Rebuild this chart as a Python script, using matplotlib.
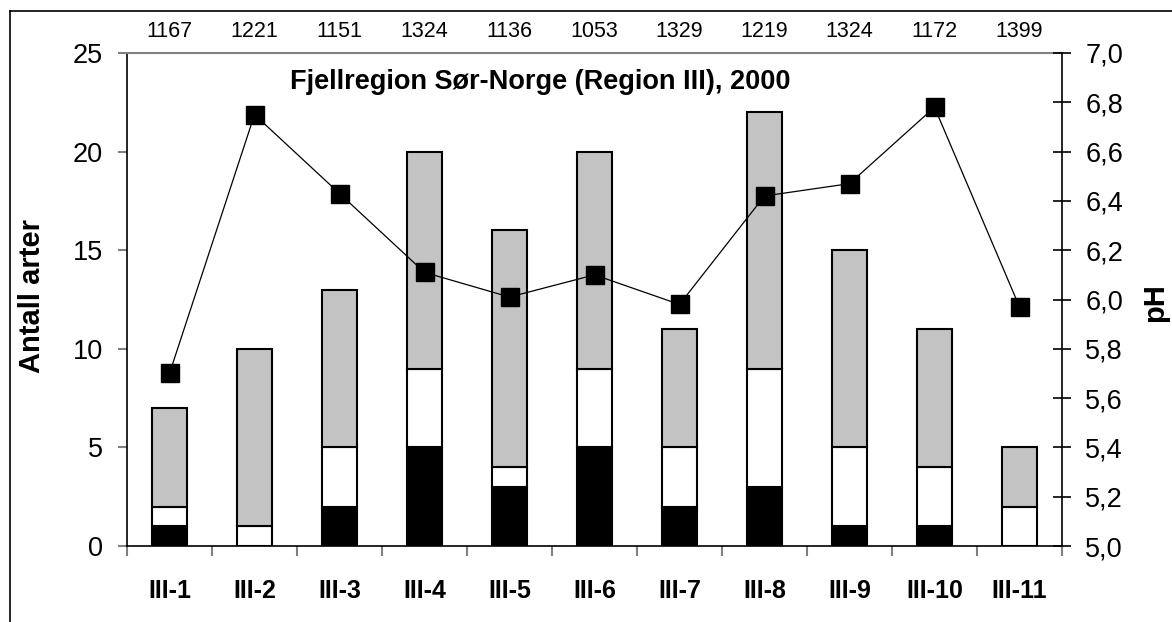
import numpy as np
import matplotlib

matplotlib.use("Agg")
import matplotlib.pyplot as plt
from matplotlib.ticker import FuncFormatter

plt.rcParams["font.family"] = ["Liberation Sans", "DejaVu Sans"]

sites = ["III-1", "III-2", "III-3", "III-4", "III-5", "III-6",
         "III-7", "III-8", "III-9", "III-10", "III-11"]
altitude = [1167, 1221, 1151, 1324, 1136, 1053, 1329, 1219, 1324, 1172, 1399]
black_part = [1, 0, 2, 5, 3, 5, 2, 3, 1, 1, 0]
white_part = [1, 1, 3, 4, 1, 4, 3, 6, 4, 3, 2]
grey_part = [5, 9, 8, 11, 12, 11, 6, 13, 10, 7, 3]
ph = [5.70, 6.75, 6.43, 6.11, 6.01, 6.10, 5.98, 6.42, 6.47, 6.78, 5.97]

W, H = 1172, 622
fig = plt.figure(figsize=(W / 100, H / 100), dpi=100)
ax = fig.add_axes([127 / W, 1 - 546 / H, 935 / W, 493 / H])

x = np.arange(len(sites))
w = 0.42
b1 = np.array(black_part)
b2 = b1 + np.array(white_part)
ax.bar(x, black_part, w, color="black", edgecolor="black", lw=1.5, zorder=2)
ax.bar(x, white_part, w, bottom=b1, color="white", edgecolor="black", lw=1.5, zorder=2)
ax.bar(x, grey_part, w, bottom=b2, color="#c3c3c3", edgecolor="black", lw=1.5, zorder=2)

ax.set_xlim(-0.5, len(sites) - 0.5)
ax.set_ylim(0, 25)
ax.set_yticks(range(0, 26, 5))
ax.tick_params(axis="y", labelsize=19.5, length=6.5, width=1.5, color="#808080",
               direction="out", pad=11)
ax.set_xticks(x)
ax.set_xticklabels(sites, fontsize=18, fontweight="bold")
ax.tick_params(axis="x", length=0, pad=24)
ax.set_xticks(np.arange(-0.5, len(sites), 1), minor=True)
ax.tick_params(axis="x", which="minor", length=7, width=1.5, color="#808080")

for side in ["left", "bottom"]:
    ax.spines[side].set_linewidth(1.2)
ax.spines["top"].set_color("#808080")
ax.spines["top"].set_linewidth(1.5)
ax.spines["right"].set_visible(False)

ax.text(0.442, 0.941, "Fjellregion Sør-Norge (Region III), 2000", transform=ax.transAxes,
        ha="center", va="center", fontsize=19.5, fontweight="bold")

# station altitude above each column
for xi, alt in zip(x, altitude):
    ax.text(xi, 26.1, str(alt), ha="center", va="center", fontsize=15.5, clip_on=False)

ax2 = ax.twinx()
ax2.plot(x, ph, color="black", lw=0.9, marker="s", markersize=12.5, zorder=5)
ax2.set_ylim(5.0, 7.0)
ax2.set_yticks(np.arange(5.0, 7.01, 0.2))
ax2.yaxis.set_major_formatter(FuncFormatter(lambda v, p: f"{v:.1f}".replace(".", ",")))
ax2.tick_params(axis="y", labelsize=19.5, length=13.5, width=1.2, direction="inout", pad=10)
ax2.spines["right"].set_linewidth(1.2)
for side in ["left", "top", "bottom"]:
    ax2.spines[side].set_visible(False)

fig.text(32 / W, 1 - 296 / H, "Antall arter", rotation=90, ha="center", va="center",
         fontsize=21, fontweight="bold")
fig.text(1155 / W, 1 - 303 / H, "pH", rotation=90, ha="center", va="center",
         fontsize=21, fontweight="bold")

# outer frame (top and left edges visible)
fig.add_artist(plt.Line2D([10 / W, 1], [1 - 11 / H, 1 - 11 / H], color="black", lw=1.2))
fig.add_artist(plt.Line2D([10 / W, 10 / W], [0, 1 - 11 / H], color="black", lw=1.2))

fig.savefig("out.png", dpi=100)
